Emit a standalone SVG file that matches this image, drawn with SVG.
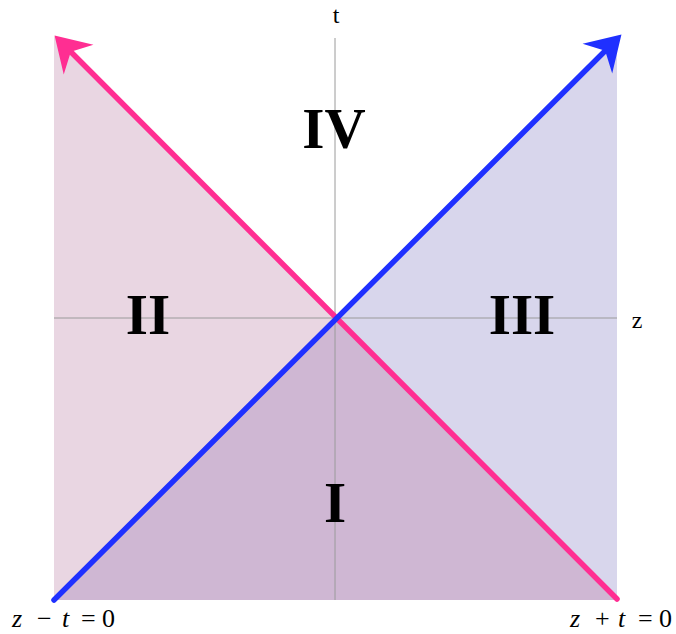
<svg xmlns="http://www.w3.org/2000/svg" width="676" height="634" viewBox="0 0 676 634">
<style>
.region{stroke:none}
.axis{stroke:#9a9a9a;stroke-width:1;fill:none}
.num{font-family:"Liberation Serif",serif;font-weight:bold;font-size:57px;fill:#000;text-anchor:middle}
.lbl{font-family:"Liberation Serif",serif;font-size:24px;fill:#000;text-anchor:middle}
.eq{font-family:"Liberation Serif",serif;font-size:26px;fill:#000}
.eq .v{font-style:italic}
</style>
<defs>
<marker id="arrPink" markerUnits="userSpaceOnUse" markerWidth="40" markerHeight="50" refX="15" refY="0" orient="auto" overflow="visible">
<path d="M34,0 L0,-21 L11,0 L0,21 Z" fill="#ff2e92"/>
</marker>
<marker id="arrBlue" markerUnits="userSpaceOnUse" markerWidth="40" markerHeight="50" refX="15" refY="0" orient="auto" overflow="visible">
<path d="M34,0 L0,-21 L11,0 L0,21 Z" fill="#1f30ff"/>
</marker>
</defs>
<rect width="676" height="634" fill="#ffffff"/>
<g id="regionII"><polygon class="region" points="54,36 335,318 54,600" fill="#e9d6e2"/></g>
<g id="regionIII"><polygon class="region" points="617,36 335,318 617,600" fill="#d8d6ec"/></g>
<g id="regionI"><polygon class="region" points="54,600 335,318 617,600" fill="#cfb7d3"/></g>
<g id="axes">
<line class="axis" x1="335" y1="38" x2="335" y2="600"/>
<line class="axis" x1="54" y1="318" x2="617" y2="318"/>
<text class="lbl" x="336" y="23">t</text>
<text class="lbl" x="637" y="328">z</text>
</g>
<g id="labels">
<text class="num" x="148" y="334">II</text>
<text class="num" x="522" y="334">III</text>
<text class="num" x="335" y="522">I</text>
<text class="num" x="334" y="148">IV</text>
</g>
<g id="connectors">
<line x1="617" y1="599" x2="68" y2="49" stroke="#ff2e92" stroke-width="5.5" stroke-linecap="round" marker-end="url(#arrPink)"/>
<line x1="54" y1="600" x2="608" y2="48" stroke="#1f30ff" stroke-width="5.5" stroke-linecap="round" marker-end="url(#arrBlue)"/>
</g>
<g id="equations">
<text class="eq" y="627"><tspan class="v" x="12">z</tspan><tspan x="37">−</tspan><tspan class="v" x="62">t</tspan><tspan x="81">=</tspan><tspan x="102">0</tspan></text>
<text class="eq" y="627"><tspan class="v" x="570">z</tspan><tspan x="595">+</tspan><tspan class="v" x="618">t</tspan><tspan x="638">=</tspan><tspan x="659">0</tspan></text>
</g>
</svg>
